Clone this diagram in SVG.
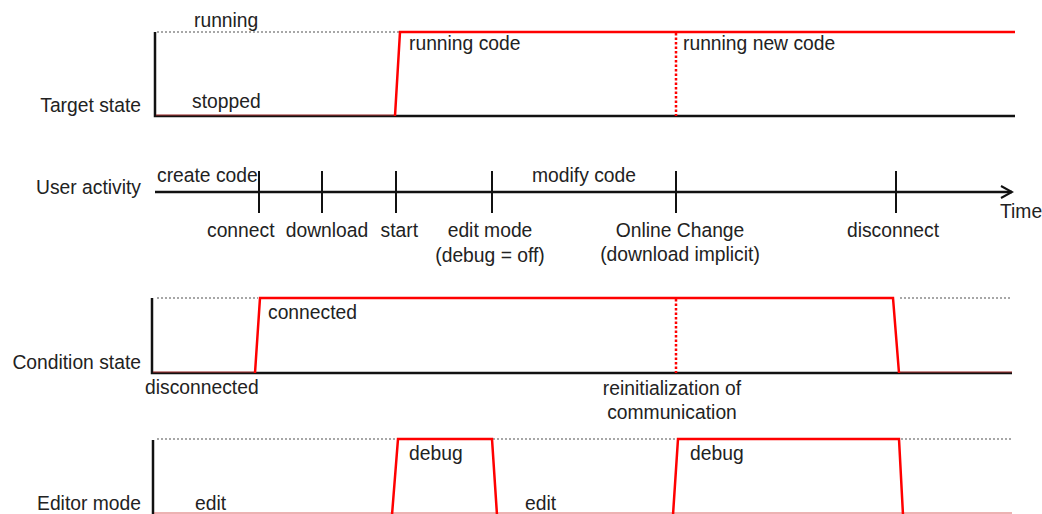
<svg xmlns="http://www.w3.org/2000/svg" width="1042" height="514" viewBox="0 0 1042 514">
<style>
text{font-family:"Liberation Sans",Arial,sans-serif;font-size:19.3px;fill:#222}
.ax{stroke:#111;stroke-width:2.5;fill:none}
.tk{stroke:#111;stroke-width:2;fill:none}
.dot{stroke:#8a8a8a;stroke-width:1.5;stroke-dasharray:2 2;fill:none}
.sig{stroke:#f00;stroke-width:2.5;fill:none;stroke-linejoin:miter}
.low{stroke:#d04040;stroke-width:0.8;fill:none}
.rd{stroke:#f00;stroke-width:2.5;stroke-dasharray:2.5 2;fill:none}
.m{text-anchor:middle}
.e{text-anchor:end}
</style>
<defs>
<marker id="arr" markerWidth="14" markerHeight="14" refX="12" refY="7" orient="auto" markerUnits="userSpaceOnUse">
<path d="M1,1 L12,7 L1,13" fill="none" stroke="#111" stroke-width="2"/>
</marker>
</defs>
<g id="connectors">
<!-- Target state -->
<line class="dot" x1="157" y1="32" x2="400" y2="32"/>
<polyline class="ax" points="155,32 155,116 1015,116"/>
<line class="low" x1="156" y1="115" x2="395" y2="115"/>
<polyline class="sig" points="395,116 400,32 1015,32"/>
<line class="rd" x1="676" y1="33" x2="676" y2="116"/>
<!-- User activity -->
<line class="ax" x1="155" y1="192" x2="1012" y2="192" marker-end="url(#arr)"/>
<line class="tk" x1="259" y1="171" x2="259" y2="213"/>
<line class="tk" x1="322" y1="171" x2="322" y2="213"/>
<line class="tk" x1="396" y1="171" x2="396" y2="213"/>
<line class="tk" x1="492" y1="171" x2="492" y2="213"/>
<line class="tk" x1="676" y1="171" x2="676" y2="213"/>
<line class="tk" x1="896" y1="171" x2="896" y2="213"/>
<!-- Condition state -->
<line class="dot" x1="157" y1="298" x2="258" y2="298"/>
<line class="dot" x1="900" y1="298" x2="1012" y2="298"/>
<polyline class="ax" points="152,298 152,373 1012,373"/>
<line class="low" x1="153" y1="372" x2="255" y2="372"/>
<line class="low" x1="899" y1="372" x2="1012" y2="372"/>
<polyline class="sig" points="255,373 260,298 893,298 899,373"/>
<line class="rd" x1="676" y1="299" x2="676" y2="373"/>
<!-- Editor mode -->
<line class="dot" x1="157" y1="439" x2="1012" y2="439"/>
<line class="ax" x1="153" y1="440" x2="153" y2="514"/>
<line class="low" x1="154" y1="513" x2="1012" y2="513"/>
<polyline class="sig" points="392,515 398,439 492,439 497,515"/>
<polyline class="sig" points="673,515 678,439 899,439 903,515"/>
</g>
<g id="target-state">
<text x="141" y="112" class="e">Target state</text>
<text x="194" y="27">running</text>
<text x="192" y="108">stopped</text>
<text x="409" y="50">running code</text>
<text x="683" y="50">running new code</text>
</g>
<g id="user-activity">
<text x="141" y="194" class="e">User activity</text>
<text x="157" y="182">create code</text>
<text x="532" y="182">modify code</text>
<text x="207" y="237">connect</text>
<text x="327" y="237" class="m">download</text>
<text x="418" y="237" class="e">start</text>
<text x="490" y="237" class="m">edit mode</text>
<text x="490" y="262" class="m">(debug = off)</text>
<text x="680" y="237" class="m">Online Change</text>
<text x="680" y="261" class="m">(download implicit)</text>
<text x="893" y="237" class="m">disconnect</text>
<text x="1000" y="218">Time</text>
</g>
<g id="condition-state">
<text x="141" y="369" class="e">Condition state</text>
<text x="268" y="319">connected</text>
<text x="145" y="394">disconnected</text>
<text x="672" y="395" class="m">reinitialization of</text>
<text x="672" y="419" class="m">communication</text>
</g>
<g id="editor-mode">
<text x="141" y="510" class="e">Editor mode</text>
<text x="195" y="510">edit</text>
<text x="409" y="460">debug</text>
<text x="525" y="510">edit</text>
<text x="690" y="460">debug</text>
</g>
</svg>
